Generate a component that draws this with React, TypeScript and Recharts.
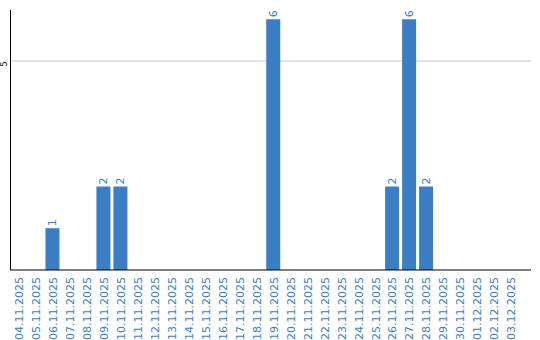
import React from 'react';
import { BarChart, Bar, XAxis, YAxis, CartesianGrid, LabelList } from 'recharts';

const dates = [
  '04.11.2025', '05.11.2025', '06.11.2025', '07.11.2025', '08.11.2025', '09.11.2025',
  '10.11.2025', '11.11.2025', '12.11.2025', '13.11.2025', '14.11.2025', '15.11.2025',
  '16.11.2025', '17.11.2025', '18.11.2025', '19.11.2025', '20.11.2025', '21.11.2025',
  '22.11.2025', '23.11.2025', '24.11.2025', '25.11.2025', '26.11.2025', '27.11.2025',
  '28.11.2025', '29.11.2025', '30.11.2025', '01.12.2025', '02.12.2025', '03.12.2025',
];
const counts = [0, 0, 1, 0, 0, 2, 2, 0, 0, 0, 0, 0, 0, 0, 0, 6, 0, 0, 0, 0, 0, 0, 2, 6, 2, 0, 0, 0, 0, 0];
const yTicks = [5];

const data = dates.map((d, i) => ({ date: d, count: counts[i] }));

const BLUE = '#3b7ec4';
const FONT = 'DejaVu Sans, sans-serif';

const DateTick = (props: any) => {
  const { x, y, payload } = props;
  return (
    <g transform={`translate(${x},${y + 5}) rotate(-90)`}>
      <text x={0} y={0} dy="0.35em" textAnchor="end" fill={BLUE} fontSize={11} fontFamily={FONT}>
        {payload.value}
      </text>
    </g>
  );
};

const ValueTick = (props: any) => {
  const { y, payload } = props;
  return (
    <g transform={`translate(4,${y + 0.5}) rotate(-90)`}>
      <text x={0} y={0} dy="0.35em" textAnchor="end" fill="#000" fontSize={8} fontFamily={FONT}>
        {payload.value}
      </text>
    </g>
  );
};

const BarLabel = (props: any) => {
  const { x, y, width, value } = props;
  if (!value) return null;
  return (
    <g transform={`translate(${x + width / 2},${y - 2}) rotate(-90)`}>
      <text x={0} y={0} dy="0.35em" textAnchor="start" fill={BLUE} fontSize={11} fontFamily={FONT}>
        {value}
      </text>
    </g>
  );
};

export default function App() {
  return (
    <div style={{ position: 'absolute', left: 0, top: 0, background: '#fff' }}>
      <BarChart
        width={540}
        height={340}
        data={data}
        margin={{ top: 10, right: 9, left: 0, bottom: 0 }}
        barCategoryGap={3}
      >
        <CartesianGrid vertical={false} stroke="#c8c8c8" horizontalValues={yTicks} />
        <XAxis
          dataKey="date"
          interval={0}
          height={70}
          tickLine={false}
          tickSize={0}
          axisLine={{ stroke: '#000' }}
          padding={{ left: 0, right: 11 }}
          tick={<DateTick />}
        />
        <YAxis
          width={10.5}
          domain={[0, 6.22]}
          ticks={yTicks}
          tickLine={false}
          axisLine={{ stroke: '#000' }}
          tick={<ValueTick />}
        />
        <Bar dataKey="count" fill={BLUE} barSize={14} isAnimationActive={false}>
          <LabelList dataKey="count" content={<BarLabel />} />
        </Bar>
      </BarChart>
    </div>
  );
}
